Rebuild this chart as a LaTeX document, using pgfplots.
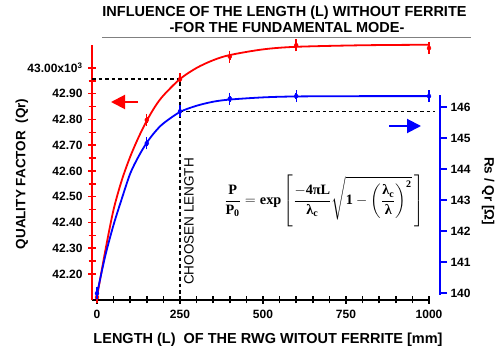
\documentclass[border=0pt]{standalone}
\usepackage{pgfplots}
\pgfplotsset{compat=1.18}
\usepackage{amsmath}
\usepackage{fontspec}
\setmainfont{Liberation Sans}
\newfontfamily\serif{Liberation Serif}
\newcommand\eb[1]{\text{\serif\bfseries #1}}
\usetikzlibrary{arrows.meta}

\pgfplotstableread{
L Q
0 42.11
25 42.29
50 42.45
75 42.565
100 42.655
125 42.73
150 42.795
175 42.85
200 42.893
250 42.957
300 43.0
350 43.03
400 43.05
500 43.072
600 43.082
800 43.088
1000 43.09
}\redfit
\pgfplotstableread{
L Q e
0 42.11 0.012
150 42.798 0.012
250 42.956 0.012
400 43.044 0.012
600 43.088 0.012
1000 43.077 0.012
}\redpts
\pgfplotstableread{
L R
0 139.97
25 141.2
50 142.2
75 143.05
100 143.85
125 144.4
150 144.85
175 145.2
200 145.47
250 145.84
300 146.04
350 146.17
400 146.24
500 146.31
600 146.34
800 146.35
1000 146.35
}\bluefit
\pgfplotstableread{
L R e
0 139.99 0.1
150 144.83 0.1
250 145.86 0.1
400 146.27 0.1
600 146.35 0.1
1000 146.35 0.1
}\bluepts

\begin{document}
\begin{tikzpicture}[x=1pt,y=1pt]
\path[use as bounding box] (0,0) rectangle (497,350);

% red (left) axis
\begin{axis}[
  at={(92pt,50pt)}, anchor=south west, scale only axis,
  width=338pt, height=255pt,
  xmin=-15, xmax=1003, ymin=42.099, ymax=43.089,
  clip=false,
  axis x line*=bottom, axis y line*=left,
  x axis line style={black,line width=1.8pt,-},
  y axis line style={red,line width=1.8pt,-},
  xtick={0,250,500,750,1000},
  xticklabels={0,250,500,750,1000},
  minor x tick num=4,
  ytick={42.2,42.3,42.4,42.5,42.6,42.7,42.8,42.9,43.0},
  yticklabels={42.20,42.30,42.40,42.50,42.60,42.70,42.80,42.90,{43.00x10\textsuperscript{3}}},
  minor y tick num=1,
  tick align=center,
  major tick length=8pt, minor tick length=7pt,
  xtick style={black,line width=1.5pt},
  ytick style={red,line width=1.5pt},
  xticklabel style={font=\bfseries\fontsize{12}{13}\selectfont, yshift=-3pt},
  yticklabel style={font=\bfseries\fontsize{12}{13}\selectfont, xshift=-2pt},
]
\addplot[red, line width=1.8pt, smooth] table[x=L,y=Q] {\redfit};
\addplot[red, only marks, mark=none,
  error bars/.cd, y dir=both, y explicit,
  error mark=-, error mark options={red,line width=1.4pt,mark size=3pt},
  error bar style={red,line width=1.8pt}]
  table[x=L,y=Q,y error=e] {\redpts};
\draw[black, line width=1.3pt, dash pattern=on 3.5pt off 3pt]
  (axis cs:-15,42.957) -- (axis cs:250,42.957) -- (axis cs:250,42.099);
\end{axis}

% blue data axis
\begin{axis}[
  at={(92pt,50pt)}, anchor=south west, scale only axis,
  width=338pt, height=255pt,
  xmin=-15, xmax=1003, ymin=139.774, ymax=148.0,
  clip=false, hide x axis, hide y axis,
]
\addplot[blue, line width=1.8pt, smooth] table[x=L,y=R] {\bluefit};
\addplot[blue, only marks, mark=none,
  error bars/.cd, y dir=both, y explicit,
  error mark=-, error mark options={blue,line width=1.4pt,mark size=3pt},
  error bar style={blue,line width=1.8pt}]
  table[x=L,y=R,y error=e] {\bluepts};
\draw[black, line width=1.3pt, dash pattern=on 3.5pt off 3pt]
  (axis cs:250,145.86) -- (axis cs:1018,145.86);
\end{axis}

% blue (right) scale axis
\begin{axis}[
  at={(440pt,55pt)}, anchor=south east, scale only axis,
  width=1pt, height=200pt,
  xmin=0, xmax=1, ymin=139.935, ymax=146.39,
  hide x axis, axis y line*=right,
  y axis line style={blue,line width=2.4pt,-},
  ytick={140,141,142,143,144,145,146},
  yticklabels={140,141,142,143,144,145,146},
  tick align=outside, major tick length=7pt,
  ytick style={blue,line width=2pt},
  yticklabel style={font=\bfseries\fontsize{12}{13}\selectfont},
]
\end{axis}

% titles and labels
\node[font=\bfseries\fontsize{14.5}{16}\selectfont] at (284.5,337) {INFLUENCE OF THE LENGTH (L) WITHOUT FERRITE};
\node[font=\bfseries\fontsize{14.5}{16}\selectfont] at (287,322) {-FOR THE FUNDAMENTAL MODE-};
\draw[gray, line width=1.5pt] (102,312.5) -- (471,312.5);
\node[font=\bfseries\fontsize{14.5}{16}\selectfont] at (268,10) {LENGTH (L)\ \ OF THE RWG WITOUT FERRITE [mm]};
\node[font=\bfseries\fontsize{13.5}{15}\selectfont, rotate=90] at (22,176) {QUALITY FACTOR\ \ (Qr)};
\node[font=\bfseries\fontsize{13.5}{15}\selectfont, rotate=-90] at (488,159) {Rs / Qr [Ω]};
\node[font=\fontsize{13.5}{15}\selectfont, rotate=90, anchor=base west, inner sep=0pt] at (193.5,65) {CHOOSEN LENGTH};

% arrows
\draw[red, line width=2pt, -{Triangle[length=14pt,width=14pt]}] (138,248) -- (111,248);
\draw[blue, line width=2pt, -{Triangle[length=14pt,width=14pt]}] (389,224) -- (421,224);

% equation
\node[font=\fontsize{14.3}{16}\selectfont] at (324,149) {$\dfrac{\eb{P}}{\eb{P}_{\eb{0}}} = \eb{exp}\left[\dfrac{-\eb{4πL}}{\eb{λ}_{\eb{c}}}\sqrt{\eb{1}-\left(\dfrac{\eb{λ}_{\eb{c}}}{\eb{λ}}\right)^{\eb{2}}}\,\right]$};
\end{tikzpicture}
\end{document}
